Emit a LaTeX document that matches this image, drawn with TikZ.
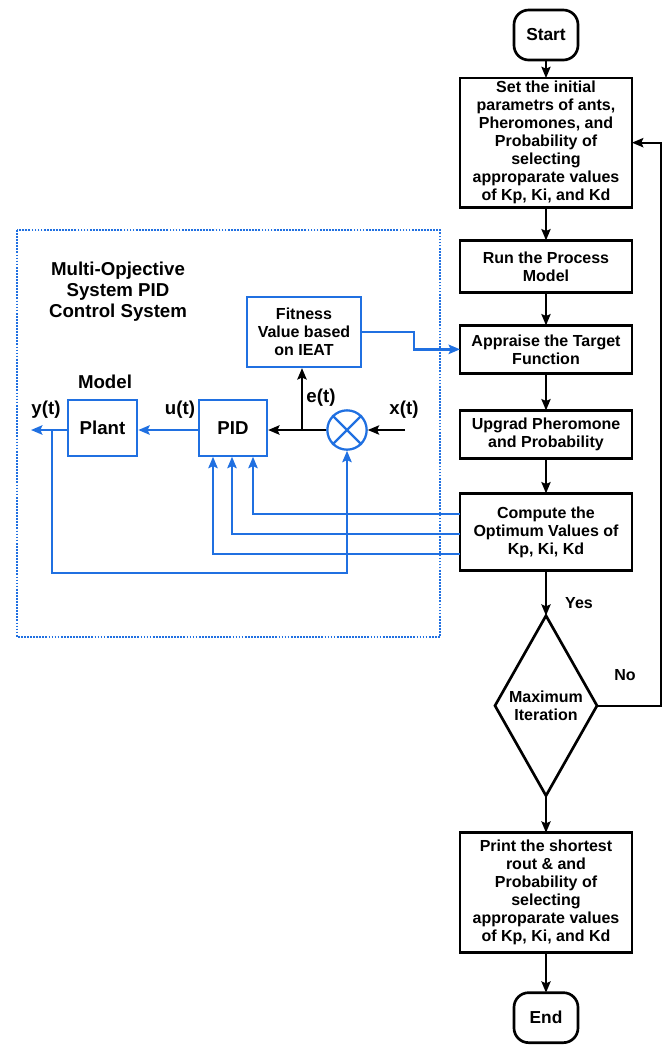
\documentclass[tikz,border=0pt]{standalone}
\usepackage{fontspec}
\setmainfont{Liberation Sans}
\usetikzlibrary{arrows.meta, positioning, shapes.geometric}

\definecolor{sigblue}{RGB}{32,112,225}
\newcommand{\flowfont}{\bfseries\fontsize{12}{13.5}\selectfont}
\newcommand{\blockfont}{\bfseries\fontsize{14}{15.75}\selectfont}

\begin{document}
\begin{tikzpicture}[
x = 0.75pt, y = -0.75pt, % pixel grid of the sketch
> = {Stealth[length = 8.5pt, width = 7pt, inset = 1.5pt]}, % arrow head style
semithick % line style
]
\tikzstyle{flowbox}=[
draw = black,
line width = 2pt,
outer sep = 0pt,
fill = white,
align = center,
minimum width = 129pt,
inner sep = 1pt,
font = \flowfont
]
\tikzstyle{terminal}=[draw, line width = 2pt, outer sep = 0pt, rounded corners = 11pt,
minimum width = 48pt, minimum height = 37.5pt, font = \bfseries\fontsize{13}{15}\selectfont]
\tikzstyle{decision}=[diamond, draw, line width = 2pt, outer sep = 0pt, aspect = 0.57,
minimum width = 76.5pt, minimum height = 135pt, inner sep = 0pt, align = center, font = \flowfont]
\tikzstyle{block}=[draw = sigblue, line width = 1.7pt, align = center, font = \blockfont]
\tikzstyle{lbl}=[font = \blockfont]
\tikzstyle{flowline}=[->, black, line width = 1.1pt]
\tikzstyle{sigline}=[->, sigblue, line width = 1.8pt]

\useasboundingbox (0,0) rectangle (671,1047);

% flow chart
\node[terminal] (start) at (546,35) {Start};
\node[flowbox, minimum height = 97pt] (init) [below = 13.5pt of start]
  {Set the initial\\parametrs of ants,\\Pheromones, and\\Probability of\\selecting\\approparate values\\of Kp, Ki, and Kd};
\node[flowbox, minimum height = 39pt] (run) [below = 24.75pt of init] {Run the Process\\Model};
\node[flowbox, minimum height = 36pt] (appraise) [below = 24.75pt of run] {Appraise the Target\\Function};
\node[flowbox, minimum height = 36pt] (upgrad) [below = 27.75pt of appraise] {Upgrad Pheromone\\and Probability};
\node[flowbox, minimum height = 58pt] (compute) [below = 26.25pt of upgrad] {Compute the\\Optimum Values of\\Kp, Ki, Kd};
\node[decision] (maxit) [below = 33.75pt of compute] {Maximum\\Iteration};
\node[flowbox, minimum height = 90pt] (print) [below = 27.75pt of maxit]
  {Print the shortest\\rout \& and\\Probability of\\selecting\\approparate values\\of Kp, Ki, and Kd};
\node[terminal] (end) [below = 30pt of print] {End};
\node[font = \flowfont] (yes) at (579,603) {Yes};
\node[font = \flowfont] (no) at (625,675) {No};

\path[flowline] (start) edge (init);
\path[flowline] (init) edge (run);
\path[flowline] (run) edge (appraise);
\path[flowline] (appraise) edge (upgrad);
\path[flowline] (upgrad) edge (compute);
\path[flowline] (compute) edge (maxit);
\path[flowline] (maxit) edge (print);
\path[flowline] (print) edge (end);
\draw[flowline, line width = 1.5pt] (maxit.east) -- ++(64,0) |- (init.east);

% PID control loop
\draw[sigblue, densely dotted, line width = 1.3pt] (17,230) rectangle (440,637);
\node[lbl, align = center] (title) at (118,292) {Multi-Opjective\\System PID\\Control System};
\node[lbl] (model) at (105,382) {Model};
\node[block, minimum width = 52pt, minimum height = 41.5pt] (plant) at (102.5,428) {Plant};
\node[block, minimum width = 51pt, minimum height = 41.5pt] (pid) at (233,428) {PID};
\node[block, minimum width = 85.5pt, minimum height = 52.5pt, font = \flowfont] (fitness) at (304,332)
  {Fitness\\Value based\\on IEAT};
\node[circle, draw = sigblue, line width = 1.7pt, minimum size = 29.5pt, inner sep = 0pt] (sum) at (347,430) {};
\draw[sigblue, line width = 1.7pt] (sum.north west) -- (sum.south east) (sum.north east) -- (sum.south west);
\node[lbl] (ylbl) at (46,410) {y(t)};
\node[lbl] (ulbl) at (180,410) {u(t)};
\node[lbl] (xlbl) at (404,410) {x(t)};
\node[lbl] (elbl) at (321,398) {e(t)};
\coordinate (xin) at (405,430);
\coordinate (yout) at (31,430);
\coordinate (ytap) at (52,430);
\coordinate (etap) at (302,430);

\draw[->, line width = 1.2pt] (xin) -- (sum);
\draw[->, line width = 1.8pt] (sum) -- (pid.east |- sum);
\draw[->, line width = 1.8pt] (etap) -- (etap |- fitness.south);
\draw[sigline] (pid.west |- sum) -- (plant.east |- sum);
\draw[sigline] (plant.west |- sum) -- (yout);
\draw[sigline] (ytap) -- ++(0,143) -| (sum.south);
\draw[sigline] (fitness.east) -- ++(52,0) |- (appraise.west);
\draw[sigline] ([yshift = 13.5pt]compute.west) -| ([xshift = 15pt]pid.south);
\draw[sigline] ([yshift = -1.5pt]compute.west) -| ([xshift = -0.75pt]pid.south);
\draw[sigline] ([yshift = -16.5pt]compute.west) -| ([xshift = -15pt]pid.south);
\end{tikzpicture}
\end{document}
